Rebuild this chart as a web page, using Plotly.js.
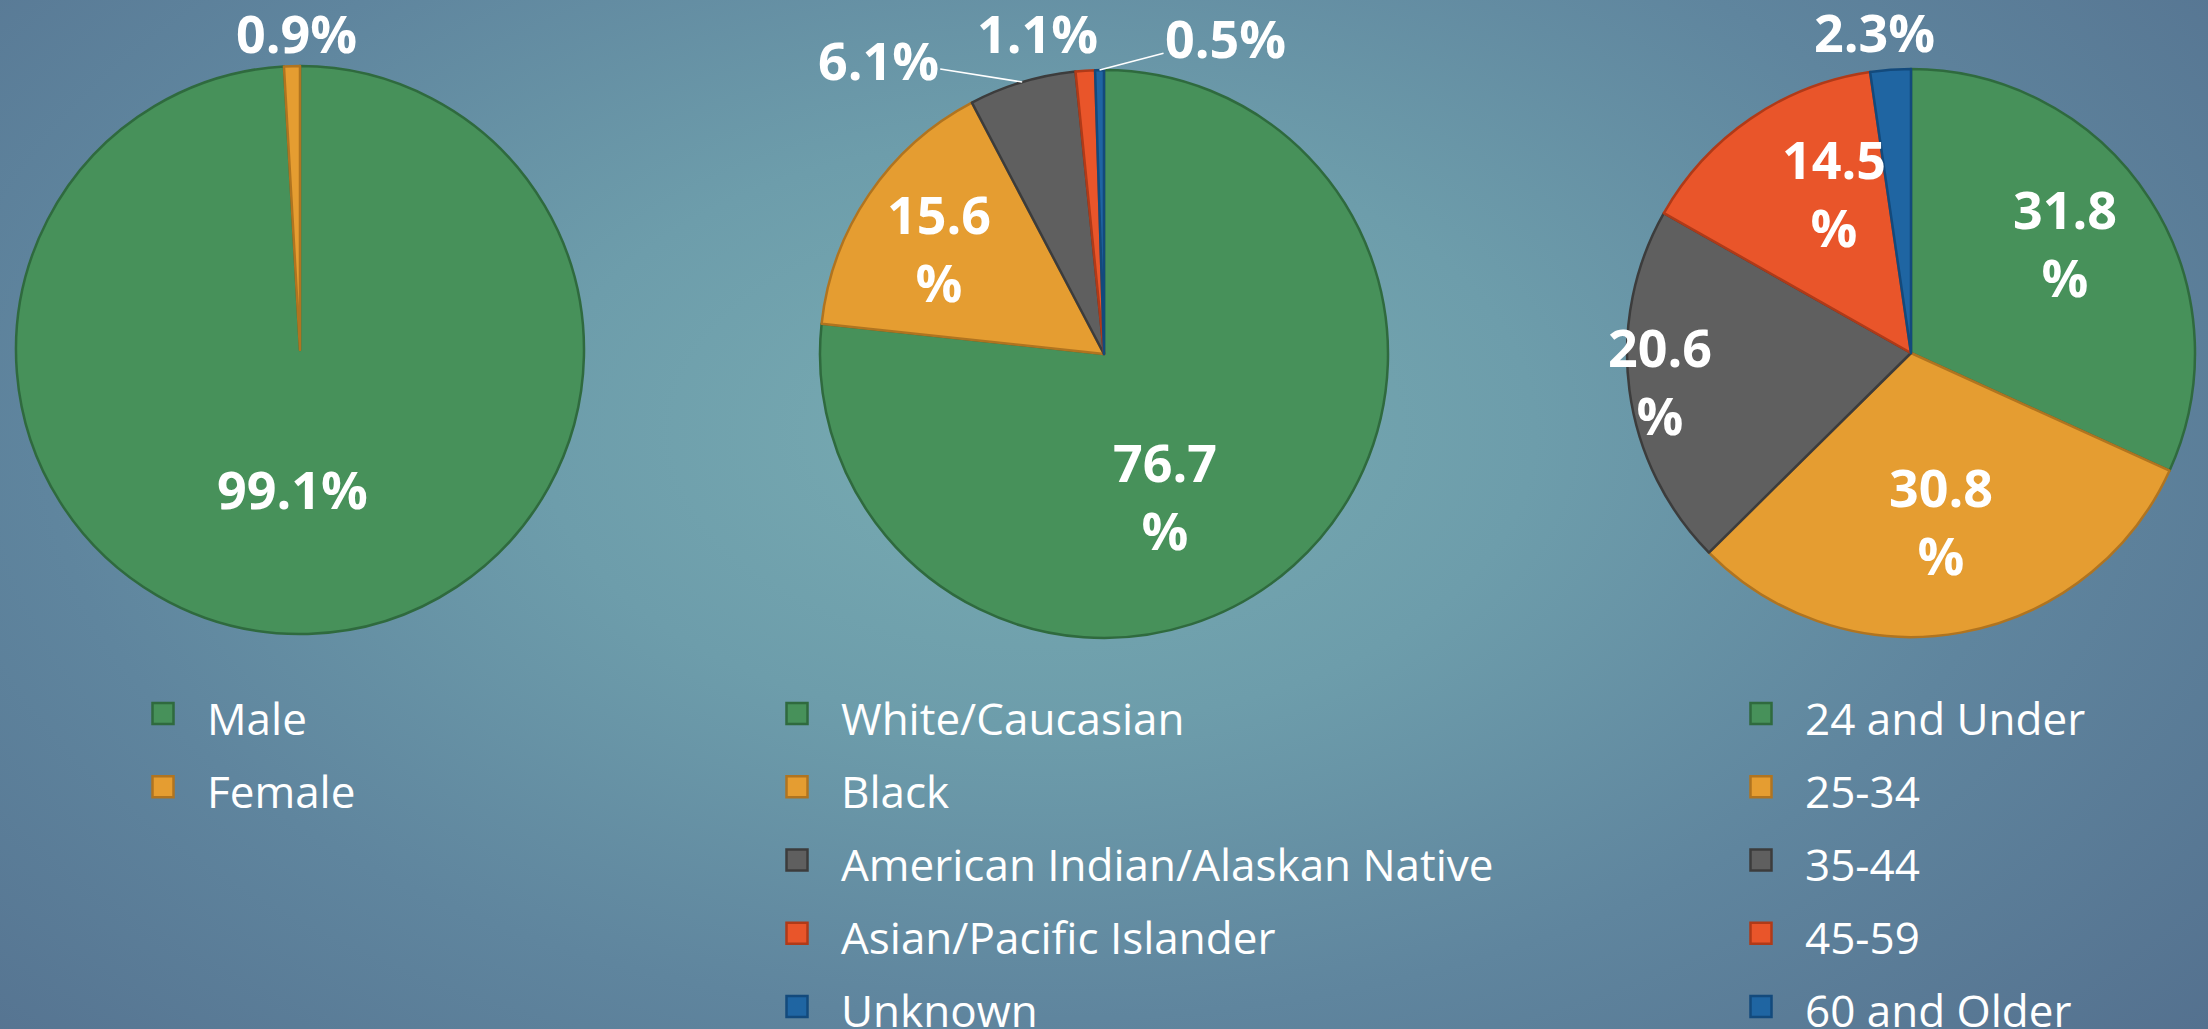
<!DOCTYPE html>
<html>
<head>
<meta charset="utf-8">
<script src="https://cdn.plot.ly/plotly-3.0.1.min.js"></script>
<style>
  html, body { margin: 0; padding: 0; }
  body {
    width: 2208px; height: 1029px; overflow: hidden;
    background: radial-gradient(ellipse 75% 95% at 47% 42%, #78acb2 0%, #6d9dab 30%, #5f859e 60%, #526d8c 100%);
  }
  #chart { width: 2208px; height: 1029px; }
</style>
</head>
<body>
<div id="chart"></div>
<script>
// ---- data ----
const genderLabels = ['Male', 'Female'];
const genderValues = [99.1, 0.9];

const raceLabels = ['White/Caucasian', 'Black', 'American Indian/Alaskan Native', 'Asian/Pacific Islander', 'Unknown'];
const raceValues = [76.7, 15.6, 6.1, 1.1, 0.5];

const ageLabels = ['24 and Under', '25-34', '35-44', '45-59', '60 and Older'];
const ageValues = [31.8, 30.8, 20.6, 14.5, 2.3];

// ---- style ----
const sliceColors = ['#47915a', '#e59d31', '#5f5f5f', '#e9552a', '#1f65a2'];
const sliceEdges  = ['#2f6a3e', '#b07420', '#3c3c3c', '#b03a18', '#134a7c'];
const W = 2208, H = 1029;
const insideMin = 10;
const labelFont = { family: 'Open Sans', size: 52, color: '#ffffff', weight: 'bold' };

// label placement: pixel shift of each label from its slice's outer-edge midpoint
const pies = [
  { labels: genderLabels, values: genderValues, cx: 300, cy: 350, r: 284, wrap: false, legend: 'legend',
    shift: [[-16, -145], [5, -34]], leader: [false, false] },
  { labels: raceLabels, values: raceValues, cx: 1104, cy: 354, r: 284, wrap: true, legend: 'legend2',
    shift: [[-129, -70], [70, 53], [-144, -23], [-48, -38], [126, -33]], leader: [false, false, true, false, true] },
  { labels: ageLabels, values: ageValues, cx: 1911, cy: 353, r: 284, wrap: true, legend: 'legend3',
    shift: [[-85, 43], [-20, -112], [31, -10], [83, 74], [-16, -38]], leader: [false, false, false, false, false] }
];

function dom(cx, cy, r) {
  return { x: [(cx - r) / W, (cx + r) / W], y: [1 - (cy + r) / H, 1 - (cy - r) / H] };
}

function pieTrace(p) {
  return {
    type: 'pie',
    labels: p.labels.map(l => '<span style="font-size:44px">' + l + '</span>'),
    values: p.values,
    sort: false,
    direction: 'clockwise',
    rotation: 0,
    domain: dom(p.cx, p.cy, p.r),
    legend: p.legend,
    marker: { colors: sliceColors.slice(0, p.values.length),
              line: { color: sliceEdges.slice(0, p.values.length), width: 2.5 } },
    textinfo: 'none',
    hoverinfo: 'none'
  };
}

function sliceAnnotations(p) {
  const total = p.values.reduce((a, b) => a + b, 0);
  let cum = 0;
  return p.values.map((v, i) => {
    const th = 2 * Math.PI * (cum + v / 2) / total;
    cum += v;
    const ex = p.cx + p.r * Math.sin(th);
    const ey = p.cy - p.r * Math.cos(th);
    const dx = p.shift[i][0], dy = p.shift[i][1];
    const inside = v >= insideMin;
    const text = v.toFixed(1) + ((inside && p.wrap) ? '<br>%' : '%');
    const a = { xref: 'paper', yref: 'paper', x: ex / W, y: 1 - ey / H, text: text, font: labelFont };
    if (p.leader[i]) {
      Object.assign(a, { showarrow: true, arrowhead: 0, arrowwidth: 1.6, arrowcolor: '#ffffff',
                         ax: dx, ay: dy, standoff: 0 });
    } else {
      Object.assign(a, { showarrow: false, xanchor: 'center', yanchor: 'middle', xshift: dx, yshift: -dy });
    }
    return a;
  });
}

function leg(xpx, ypx) {
  return {
    x: xpx / W, y: 1 - ypx / H, xanchor: 'left', yanchor: 'top',
    orientation: 'v',
    bgcolor: 'rgba(0,0,0,0)', borderwidth: 0,
    itemwidth: 78,
    font: { family: 'Open Sans', size: 54, color: '#ffffff' },
    itemclick: false, itemdoubleclick: false
  };
}

const data = pies.map(pieTrace);
const annotations = [].concat(...pies.map(sliceAnnotations));

const layout = {
  width: W, height: H,
  margin: { l: 0, r: 0, t: 0, b: 0, autoexpand: false },
  paper_bgcolor: 'rgba(0,0,0,0)',
  plot_bgcolor: 'rgba(0,0,0,0)',
  showlegend: true,
  legend: leg(119, 672),
  legend2: leg(753, 672),
  legend3: leg(1717, 672),
  annotations: annotations
};

Plotly.newPlot('chart', data, layout, { displayModeBar: false, staticPlot: true }).then(() => {
  document.querySelectorAll('path.legendpie').forEach(el => el.setAttribute('d', 'M10.5,10.5H-10.5V-10.5H10.5Z'));
});
</script>
</body>
</html>
